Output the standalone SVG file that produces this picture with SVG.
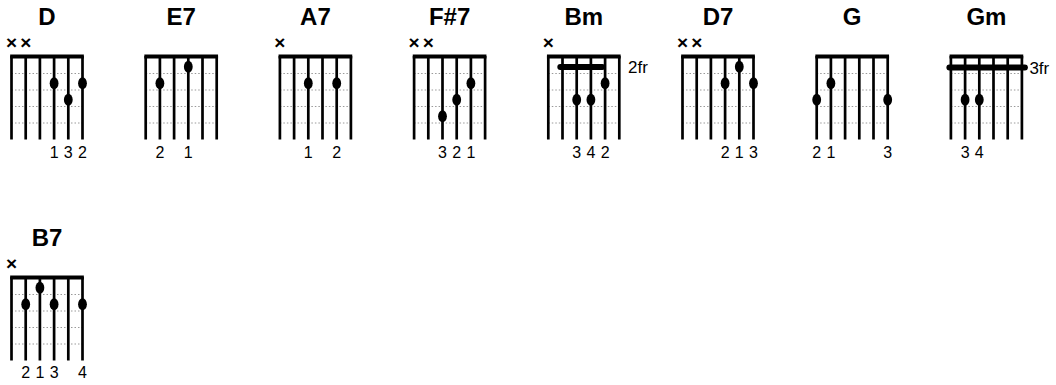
<svg xmlns="http://www.w3.org/2000/svg" xmlns:xlink="http://www.w3.org/1999/xlink" width="1056" height="385" viewBox="0 0 1056 385">
<style>
.title{font-family:"Liberation Sans",Arial,sans-serif;font-weight:bold;font-size:24px;text-anchor:middle;fill:#000}
.mute{font-family:"Liberation Sans",Arial,sans-serif;font-weight:bold;font-size:19px;text-anchor:middle;fill:#000}
.fing{font-family:"Liberation Sans",Arial,sans-serif;font-size:16px;text-anchor:middle;fill:#000}
.fr{font-family:"Liberation Sans",Arial,sans-serif;font-size:17px;fill:#000}
.str{stroke:#000;stroke-width:2.7}
.fret{stroke:#9a9a9a;stroke-width:1;stroke-dasharray:1.5 2}
.dot{fill:#000}
.barre{stroke:#000;stroke-width:6;stroke-linecap:round}
</style>
<defs>
<g id="grid">
<line class="fret" x1="0" y1="73.5" x2="71" y2="73.5"/>
<line class="fret" x1="0" y1="90" x2="71" y2="90"/>
<line class="fret" x1="0" y1="106.5" x2="71" y2="106.5"/>
<line class="fret" x1="0" y1="123" x2="71" y2="123"/>
<line class="str" x1="0" y1="56" x2="0" y2="139.5"/>
<line class="str" x1="14.2" y1="56" x2="14.2" y2="139.5"/>
<line class="str" x1="28.4" y1="56" x2="28.4" y2="139.5"/>
<line class="str" x1="42.6" y1="56" x2="42.6" y2="139.5"/>
<line class="str" x1="56.8" y1="56" x2="56.8" y2="139.5"/>
<line class="str" x1="71" y1="56" x2="71" y2="139.5"/>
<rect x="-1.35" y="54.5" width="73.7" height="4" fill="#000"/>
</g>
</defs>

<g id="chord-D" transform="translate(11.5,0)">
<text class="title" x="35.5" y="25">D</text>
<text class="mute" x="0" y="49">×</text><text class="mute" x="14.2" y="49">×</text>
<use xlink:href="#grid"/>
<ellipse class="dot" cx="42.6" cy="83.25" rx="4.4" ry="6"/>
<ellipse class="dot" cx="56.8" cy="99.75" rx="4.4" ry="6"/>
<ellipse class="dot" cx="71" cy="83.25" rx="4.4" ry="6"/>
<text class="fing" x="42.6" y="158">1</text><text class="fing" x="56.8" y="158">3</text><text class="fing" x="71" y="158">2</text>
</g>

<g id="chord-E7" transform="translate(145.7,0)">
<text class="title" x="35.5" y="25">E7</text>
<use xlink:href="#grid"/>
<ellipse class="dot" cx="14.2" cy="83.25" rx="4.4" ry="6"/>
<ellipse class="dot" cx="42.6" cy="66.75" rx="4.4" ry="6"/>
<text class="fing" x="14.2" y="158">2</text><text class="fing" x="42.6" y="158">1</text>
</g>

<g id="chord-A7" transform="translate(279.9,0)">
<text class="title" x="35.5" y="25">A7</text>
<text class="mute" x="0" y="49">×</text>
<use xlink:href="#grid"/>
<ellipse class="dot" cx="28.4" cy="83.25" rx="4.4" ry="6"/>
<ellipse class="dot" cx="56.8" cy="83.25" rx="4.4" ry="6"/>
<text class="fing" x="28.4" y="158">1</text><text class="fing" x="56.8" y="158">2</text>
</g>

<g id="chord-Fs7" transform="translate(414.1,0)">
<text class="title" x="35.5" y="25">F#7</text>
<text class="mute" x="0" y="49">×</text><text class="mute" x="14.2" y="49">×</text>
<use xlink:href="#grid"/>
<ellipse class="dot" cx="28.4" cy="116.25" rx="4.4" ry="6"/>
<ellipse class="dot" cx="42.6" cy="99.75" rx="4.4" ry="6"/>
<ellipse class="dot" cx="56.8" cy="83.25" rx="4.4" ry="6"/>
<text class="fing" x="28.4" y="158">3</text><text class="fing" x="42.6" y="158">2</text><text class="fing" x="56.8" y="158">1</text>
</g>

<g id="chord-Bm" transform="translate(548.3,0)">
<text class="title" x="35.5" y="25">Bm</text>
<text class="mute" x="0" y="49">×</text>
<use xlink:href="#grid"/>
<line class="barre" x1="12" y1="67" x2="54" y2="67"/>
<ellipse class="dot" cx="28.4" cy="99.75" rx="4.4" ry="6"/>
<ellipse class="dot" cx="42.6" cy="99.75" rx="4.4" ry="6"/>
<ellipse class="dot" cx="56.8" cy="83.25" rx="4.4" ry="6"/>
<text class="fr" x="79.7" y="73">2fr</text>
<text class="fing" x="28.4" y="158">3</text><text class="fing" x="42.6" y="158">4</text><text class="fing" x="56.8" y="158">2</text>
</g>

<g id="chord-D7" transform="translate(682.5,0)">
<text class="title" x="35.5" y="25">D7</text>
<text class="mute" x="0" y="49">×</text><text class="mute" x="14.2" y="49">×</text>
<use xlink:href="#grid"/>
<ellipse class="dot" cx="42.6" cy="83.25" rx="4.4" ry="6"/>
<ellipse class="dot" cx="56.8" cy="66.75" rx="4.4" ry="6"/>
<ellipse class="dot" cx="71" cy="83.25" rx="4.4" ry="6"/>
<text class="fing" x="42.6" y="158">2</text><text class="fing" x="56.8" y="158">1</text><text class="fing" x="71" y="158">3</text>
</g>

<g id="chord-G" transform="translate(816.7,0)">
<text class="title" x="35.5" y="25">G</text>
<use xlink:href="#grid"/>
<ellipse class="dot" cx="0" cy="99.75" rx="4.4" ry="6"/>
<ellipse class="dot" cx="14.2" cy="83.25" rx="4.4" ry="6"/>
<ellipse class="dot" cx="71" cy="99.75" rx="4.4" ry="6"/>
<text class="fing" x="0" y="158">2</text><text class="fing" x="14.2" y="158">1</text><text class="fing" x="71" y="158">3</text>
</g>

<g id="chord-Gm" transform="translate(950.9,0)">
<text class="title" x="35.5" y="25">Gm</text>
<use xlink:href="#grid"/>
<line class="barre" x1="-1.5" y1="67.5" x2="74" y2="67.5"/>
<ellipse class="dot" cx="14.2" cy="99.75" rx="4.4" ry="6"/>
<ellipse class="dot" cx="28.4" cy="99.75" rx="4.4" ry="6"/>
<text class="fr" x="78.5" y="74">3fr</text>
<text class="fing" x="14.2" y="158">3</text><text class="fing" x="28.4" y="158">4</text>
</g>

<g id="chord-B7" transform="translate(11.5,221)">
<text class="title" x="35.5" y="25">B7</text>
<text class="mute" x="0" y="49">×</text>
<use xlink:href="#grid"/>
<ellipse class="dot" cx="14.2" cy="83.25" rx="4.4" ry="6"/>
<ellipse class="dot" cx="28.4" cy="66.75" rx="4.4" ry="6"/>
<ellipse class="dot" cx="42.6" cy="83.25" rx="4.4" ry="6"/>
<ellipse class="dot" cx="71" cy="83.25" rx="4.4" ry="6"/>
<text class="fing" x="14.2" y="157">2</text><text class="fing" x="28.4" y="157">1</text><text class="fing" x="42.6" y="157">3</text><text class="fing" x="71" y="157">4</text>
</g>

<g id="connectors"></g>
</svg>
